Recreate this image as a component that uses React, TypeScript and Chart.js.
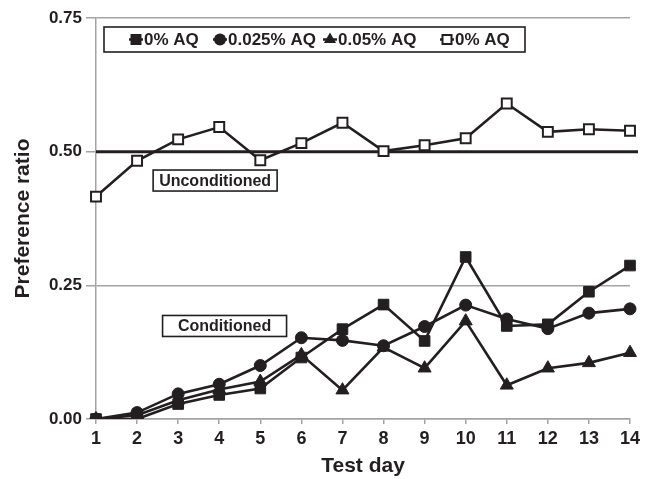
import React, { useEffect, useRef } from "react";
import { Chart, registerables } from "chart.js";

Chart.register(...registerables);

// ---- data ----
const DAYS = ["1", "2", "3", "4", "5", "6", "7", "8", "9", "10", "11", "12", "13", "14"];
const AQ_0 = [0, 0, 0.028, 0.045, 0.057, 0.115, 0.168, 0.214, 0.146, 0.303, 0.174, 0.177, 0.238, 0.287];
const AQ_0025 = [0, 0.012, 0.047, 0.065, 0.1, 0.152, 0.147, 0.137, 0.173, 0.213, 0.187, 0.169, 0.198, 0.206];
const AQ_005 = [0, 0.007, 0.035, 0.055, 0.07, 0.12, 0.054, 0.134, 0.095, 0.183, 0.063, 0.095, 0.105, 0.124];
const UNCONDITIONED = [0.416, 0.483, 0.523, 0.546, 0.484, 0.516, 0.554, 0.501, 0.512, 0.525, 0.59, 0.537, 0.542, 0.539];
const SERIES_LABELS = ["0% AQ", "0.025% AQ", "0.05% AQ", "0% AQ"];
const Y_MIN = 0;
const Y_MAX = 0.75;
const Y_STEP = 0.25;
const REF_LINE = 0.5;
const NOTE_LABELS = ["Unconditioned", "Conditioned"];
const NOTE_DAYS = [3.9, 4.13];
const NOTE_VALUES = [0.446, 0.174];

const INK = "#231f20";
const GRID = "#a3a3a3";
const FONT = '"Liberation Sans", Arial, Helvetica, sans-serif';

type Kind = "rect" | "circle" | "triangle" | "open";
const KINDS: Kind[] = ["rect", "circle", "triangle", "open"];

function drawMarker(ctx: CanvasRenderingContext2D, kind: Kind, x: number, y: number) {
  ctx.save();
  ctx.fillStyle = INK;
  ctx.strokeStyle = INK;
  ctx.beginPath();
  if (kind === "rect") {
    ctx.rect(x - 5.5, y - 5.5, 11, 11);
    ctx.fill();
  } else if (kind === "circle") {
    ctx.arc(x, y, 6, 0, Math.PI * 2);
    ctx.fill();
  } else if (kind === "triangle") {
    const r = 7;
    ctx.moveTo(x, y - r);
    ctx.lineTo(x + r * 0.866, y + r * 0.5);
    ctx.lineTo(x - r * 0.866, y + r * 0.5);
    ctx.closePath();
    ctx.fill();
  } else {
    ctx.fillStyle = "#ffffff";
    ctx.lineWidth = 2;
    ctx.rect(x - 4.5, y - 4.5, 9, 9);
    ctx.fill();
    ctx.stroke();
  }
  ctx.restore();
}

export default function App() {
  const ref = useRef<HTMLCanvasElement>(null);

  useEffect(() => {
    document.body.style.margin = "0";
    const canvas = ref.current;
    if (!canvas) return;

    const refLinePlugin = {
      id: "refLine",
      beforeDatasetsDraw(chart: any) {
        const { ctx, chartArea, scales } = chart;
        const y = scales.y.getPixelForValue(REF_LINE);
        ctx.save();
        ctx.strokeStyle = INK;
        ctx.lineWidth = 3;
        ctx.beginPath();
        ctx.moveTo(chartArea.left, y);
        ctx.lineTo(chartArea.right + 8, y);
        ctx.stroke();
        ctx.restore();
      },
    };

    const overlayPlugin = {
      id: "overlay",
      afterDraw(chart: any) {
        const { ctx, chartArea, scales } = chart;
        ctx.save();
        ctx.textBaseline = "middle";

        // annotation boxes
        ctx.font = `bold 16px ${FONT}`;
        NOTE_LABELS.forEach((label, i) => {
          const cx = scales.x.getPixelForValue(NOTE_DAYS[i] - 1);
          const cy = scales.y.getPixelForValue(NOTE_VALUES[i]);
          const w = 124;
          const h = 21;
          ctx.fillStyle = "#ffffff";
          ctx.fillRect(cx - w / 2, cy - h / 2, w, h);
          ctx.strokeStyle = INK;
          ctx.lineWidth = 1.6;
          ctx.strokeRect(cx - w / 2, cy - h / 2, w, h);
          ctx.fillStyle = INK;
          ctx.textAlign = "center";
          ctx.fillText(label, cx, cy + 1);
        });

        // legend box
        ctx.font = `bold 17px ${FONT}`;
        const bl = chartArea.left + 8;
        const bt = chartArea.top + 9;
        const bw = 421;
        const bh = 25;
        ctx.fillStyle = "#ffffff";
        ctx.fillRect(bl, bt, bw, bh);
        ctx.strokeStyle = INK;
        ctx.lineWidth = 1.6;
        ctx.strokeRect(bl, bt, bw, bh);
        const offsets = [32, 116, 226, 343];
        const my = bt + bh / 2;
        SERIES_LABELS.forEach((label, i) => {
          const mx = bl + offsets[i];
          ctx.strokeStyle = INK;
          ctx.lineWidth = 2.5;
          ctx.beginPath();
          ctx.moveTo(mx - 7, my);
          ctx.lineTo(mx + 7, my);
          ctx.stroke();
          drawMarker(ctx, KINDS[i], mx, my);
          ctx.fillStyle = INK;
          ctx.textAlign = "left";
          ctx.fillText(label, mx + 8, my + 1);
        });
        ctx.restore();
      },
    };

    const common = {
      borderColor: INK,
      borderWidth: 2.6,
      pointBorderColor: INK,
      tension: 0,
      fill: false,
    };

    const chart = new Chart(canvas, {
      type: "line",
      data: {
        labels: DAYS,
        datasets: [
          {
            ...common,
            label: SERIES_LABELS[0],
            data: AQ_0,
            pointStyle: "rect",
            pointRadius: 7.5,
            pointBackgroundColor: INK,
            pointBorderWidth: 1,
          },
          {
            ...common,
            label: SERIES_LABELS[1],
            data: AQ_0025,
            pointStyle: "circle",
            pointRadius: 6,
            pointBackgroundColor: INK,
            pointBorderWidth: 1,
          },
          {
            ...common,
            label: SERIES_LABELS[2],
            data: AQ_005,
            pointStyle: "triangle",
            pointRadius: 7.5,
            pointBackgroundColor: INK,
            pointBorderWidth: 1,
          },
          {
            ...common,
            label: SERIES_LABELS[3],
            data: UNCONDITIONED,
            pointStyle: "rect",
            pointRadius: 7,
            pointBackgroundColor: "#ffffff",
            pointBorderWidth: 2,
          },
        ],
      },
      options: {
        responsive: false,
        maintainAspectRatio: false,
        animation: false,
        layout: { padding: { top: 18, right: 25, left: 0, bottom: 0 } },
        plugins: {
          legend: { display: false },
          tooltip: { enabled: false },
        },
        scales: {
          x: {
            type: "category",
            offset: false,
            afterFit(scale: any) {
              scale.height = 60;
            },
            grid: {
              drawOnChartArea: false,
              drawTicks: true,
              tickLength: 5,
              color: GRID,
              lineWidth: 1.5,
              offset: false,
            },
            border: { display: true, color: GRID, width: 1.5 },
            ticks: {
              color: INK,
              padding: 4,
              maxRotation: 0,
              autoSkip: false,
              font: { family: FONT, size: 18, weight: "bold" },
            },
            title: {
              display: true,
              text: "Test day",
              color: INK,
              padding: { top: 0, bottom: 0 },
              font: { family: FONT, size: 21, weight: "bold" },
            },
          },
          y: {
            min: Y_MIN,
            max: Y_MAX,
            afterFit(scale: any) {
              scale.width = 96;
            },
            grid: {
              color: GRID,
              lineWidth: 1.5,
              drawTicks: true,
              tickLength: 10,
            },
            border: { display: true, color: GRID, width: 1.5 },
            ticks: {
              stepSize: Y_STEP,
              color: INK,
              padding: 4,
              font: { family: FONT, size: 17, weight: "bold" },
              callback: (v: any) => Number(v).toFixed(2),
            },
            title: {
              display: true,
              text: "Preference ratio",
              color: INK,
              padding: { top: 11, bottom: 0 },
              font: { family: FONT, size: 21, weight: "bold" },
            },
          },
        },
      },
      plugins: [refLinePlugin, overlayPlugin],
    } as any);

    return () => chart.destroy();
  }, []);

  return (
    <div style={{ width: 655, height: 479 }}>
      <canvas ref={ref} width={655} height={479} style={{ display: "block" }} />
    </div>
  );
}
